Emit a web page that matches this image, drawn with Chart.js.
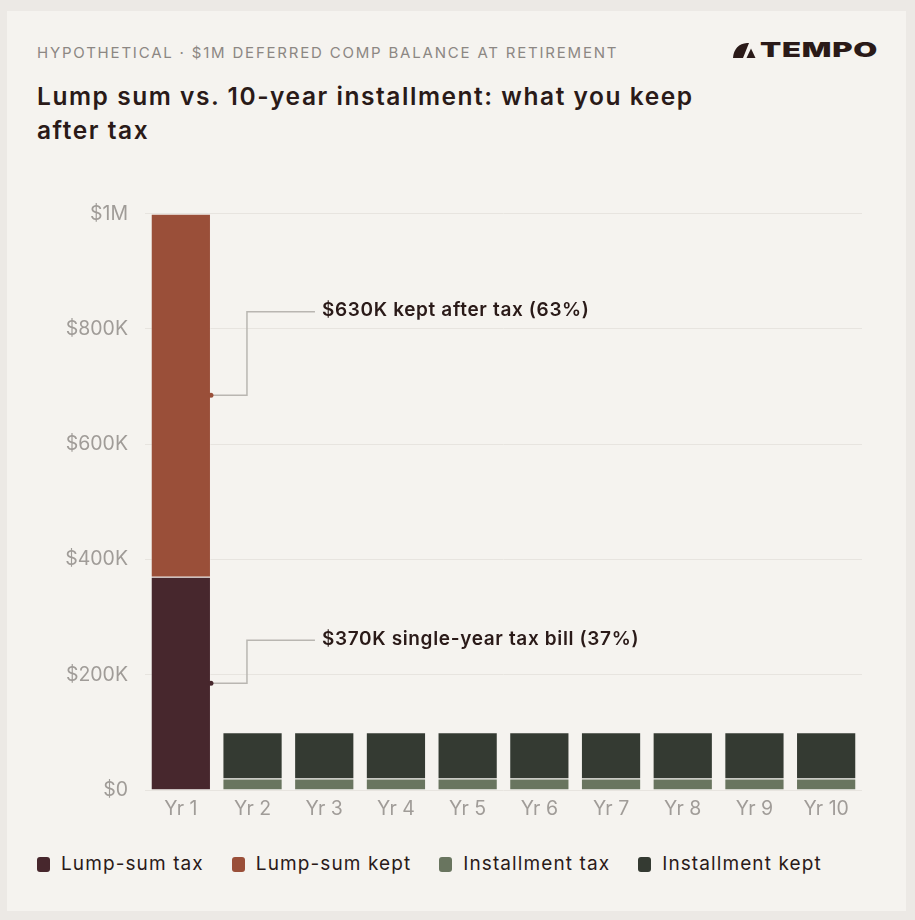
<!DOCTYPE html>
<html>
<head>
<meta charset="utf-8">
<script src="https://cdn.jsdelivr.net/npm/chart.js@4"></script>
<style>
  html, body { margin: 0; padding: 0; }
  body { width: 915px; height: 920px; background: #ece9e5; position: relative; overflow: hidden; font-family: Inter, "Noto Sans", sans-serif; }
  .card { position: absolute; left: 7px; top: 11px; width: 899px; height: 900px; background: #f5f3ef; }
  .kicker { position: absolute; left: 37px; top: 44px; font-size: 15px; line-height: 18px; letter-spacing: 1.8px; color: #8c8783; text-transform: uppercase; white-space: nowrap; }
  .title { position: absolute; left: 37px; top: 79px; font-size: 24.5px; line-height: 34px; font-weight: 600; color: #2a1a18; letter-spacing: 1.55px; white-space: nowrap; }
  .logo { position: absolute; left: 733px; top: 40px; height: 20px; display: flex; align-items: center; color: #2a1a18; }
  .logo span { font-weight: 900; font-size: 20px; line-height: 20px; display: inline-block; transform: scaleX(1.55); transform-origin: left center; letter-spacing: 0.5px; margin-left: 3px; }
  .chartbox { position: absolute; left: 37px; top: 185px; width: 825px; height: 634px; }
  .legend { position: absolute; left: 37px; top: 852px; display: flex; font-size: 19px; line-height: 24px; letter-spacing: 1.1px; color: #2a1a18; }
  .legend div { display: flex; align-items: center; margin-right: 28px; }
  .legend i { display: inline-block; width: 13px; height: 15px; border-radius: 3px; margin-right: 11px; }
</style>
</head>
<body>
<div class="card"></div>
<div class="kicker">Hypothetical · $1M deferred comp balance at retirement</div>
<div class="title">Lump sum vs. 10-year installment: what you keep<br>after tax</div>
<div class="logo">
  <svg width="24" height="15" viewBox="0 0 24 15"><path d="M0 15 C0.5 6 6 0.5 14 0 L16 0 L10 15 Z" fill="#2a1a18"/><path d="M13.5 15 L18 5.5 L22.5 15 Z" fill="#2a1a18"/></svg>
  <span>TEMPO</span>
</div>
<div class="chartbox"><canvas id="chart"></canvas></div>
<div class="legend" id="legend"></div>

<script>
// данные
const years = ['Yr 1', 'Yr 2', 'Yr 3', 'Yr 4', 'Yr 5', 'Yr 6', 'Yr 7', 'Yr 8', 'Yr 9', 'Yr 10'];
const lumpTax = [370000, null, null, null, null, null, null, null, null, null];
const lumpKept = [630000, null, null, null, null, null, null, null, null, null];
const instTax = [null, 20000, 20000, 20000, 20000, 20000, 20000, 20000, 20000, 20000];
const instKept = [null, 80000, 80000, 80000, 80000, 80000, 80000, 80000, 80000, 80000];
const seriesNames = ['Lump-sum tax', 'Lump-sum kept', 'Installment tax', 'Installment kept'];
const seriesColors = ['#47272d', '#9a4f39', '#69755f', '#343a32'];
const yTicks = [0, 200000, 400000, 600000, 800000, 1000000];

// подписи-выноски: dataset, столбец, уровень текста, текст
const notes = [
  { ds: 1, idx: 0, at: 830000, text: '$630K kept after tax (63%)' },
  { ds: 0, idx: 0, at: 260000, text: '$370K single-year tax bill (37%)' }
];

const calloutPlugin = {
  id: 'callouts',
  afterDatasetsDraw(chart) {
    const ctx = chart.ctx;
    const y = chart.scales.y;
    notes.forEach(n => {
      const bar = chart.getDatasetMeta(n.ds).data[n.idx];
      const x0 = bar.x + bar.width / 2;
      const y0 = (bar.y + bar.base) / 2;
      const yl = y.getPixelForValue(n.at);
      ctx.save();
      ctx.strokeStyle = '#b9b6b1';
      ctx.lineWidth = 1.5;
      ctx.beginPath();
      ctx.moveTo(x0, y0);
      ctx.lineTo(x0 + 36, y0);
      ctx.lineTo(x0 + 36, yl);
      ctx.lineTo(x0 + 104, yl);
      ctx.stroke();
      ctx.fillStyle = seriesColors[n.ds];
      ctx.beginPath();
      ctx.arc(x0, y0, 2.5, 0, Math.PI * 2);
      ctx.fill();
      ctx.fillStyle = '#2a1a18';
      ctx.font = '600 19px Inter';
      ctx.letterSpacing = '0.65px';
      ctx.textBaseline = 'middle';
      ctx.fillText(n.text, x0 + 111, yl - 1);
      ctx.restore();
    });
  }
};

const datasets = [lumpTax, lumpKept, instTax, instKept].map((d, i) => ({
  label: seriesNames[i],
  data: d,
  backgroundColor: seriesColors[i],
  borderColor: 'rgba(245,243,239,0.4)',
  borderWidth: 1,
  stack: 'all',
  barPercentage: 0.84,
  categoryPercentage: 1
}));

new Chart(document.getElementById('chart'), {
  type: 'bar',
  data: { labels: years, datasets: datasets },
  options: {
    responsive: true,
    maintainAspectRatio: false,
    animation: false,
    layout: { padding: { top: 19, right: 0, left: 0, bottom: 0 } },
    plugins: { legend: { display: false }, tooltip: { enabled: false } },
    scales: {
      x: {
        stacked: true,
        grid: { display: false, drawTicks: false },
        border: { display: false },
        ticks: { color: '#a09c98', font: { family: 'Inter', size: 19.5 }, padding: 7 },
        afterFit(s) { s.height = 29; }
      },
      y: {
        stacked: true,
        min: 0,
        max: 1000000,
        afterBuildTicks(s) { s.ticks = yTicks.map(v => ({ value: v })); },
        grid: { color: '#e7e4df', lineWidth: 1, drawTicks: false },
        border: { display: false },
        ticks: {
          color: '#a09c98',
          font: { family: 'Inter', size: 19.5 },
          padding: 17,
          callback: v => v === 0 ? '$0' : v >= 1000000 ? '$' + v / 1000000 + 'M' : '$' + v / 1000 + 'K'
        },
        afterFit(s) { s.width = 108; }
      }
    }
  },
  plugins: [calloutPlugin]
});

// легенда
const legend = document.getElementById('legend');
seriesNames.forEach((name, i) => {
  const item = document.createElement('div');
  item.innerHTML = '<i style="background:' + seriesColors[i] + '"></i>' + name;
  legend.appendChild(item);
});
</script>
</body>
</html>
